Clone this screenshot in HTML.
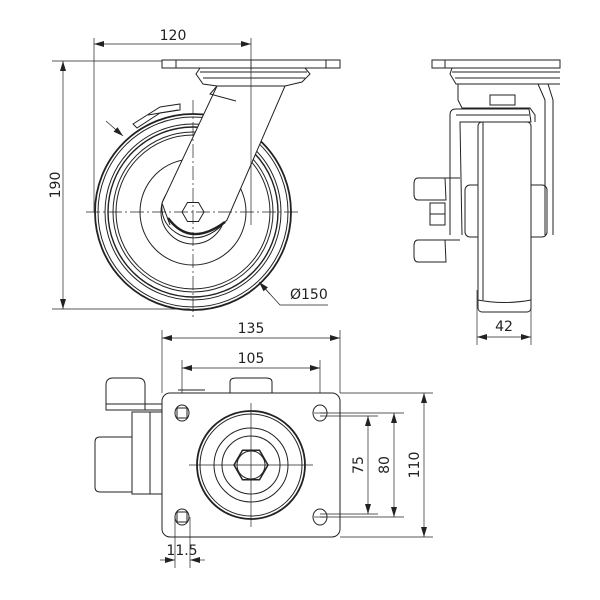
<!DOCTYPE html>
<html><head><meta charset="utf-8"><style>
html,body{margin:0;padding:0;background:#fff;}
svg{display:block;}
text{font-family:"DejaVu Sans","Liberation Sans",sans-serif;font-size:14px;fill:#222;}
</style></head><body>
<svg width="600" height="600" viewBox="0 0 600 600" xmlns="http://www.w3.org/2000/svg">
<defs>
<marker id="a" viewBox="0 0 10 6" refX="10" refY="3" markerWidth="10" markerHeight="6" orient="auto-start-reverse" markerUnits="userSpaceOnUse"><path d="M0,0 L10,3 L0,6 z" fill="#222"/></marker>
</defs>
<g fill="none" stroke="#222" stroke-width="1">
<!-- FRONT VIEW -->
<line x1="94" y1="38" x2="94" y2="212" stroke-width="0.7"/>
<line x1="251" y1="38" x2="251" y2="70" stroke-width="0.7"/>
<line x1="94" y1="44" x2="251" y2="44" marker-start="url(#a)" marker-end="url(#a)" stroke-width="0.7"/>
<line x1="52" y1="61" x2="162" y2="61" stroke-width="0.7"/>
<line x1="52" y1="309" x2="190" y2="309" stroke-width="0.7"/>
<line x1="63" y1="61" x2="63" y2="309" marker-start="url(#a)" marker-end="url(#a)" stroke-width="0.7"/>
<rect x="162" y="60" width="178" height="8"/>
<line x1="176" y1="60" x2="176" y2="68"/><line x1="326" y1="60" x2="326" y2="68"/>
<path d="M200,68 L196,74 L203,84 L217,86 L285,86 L302,82 L310,74 L305,68"/>
<line x1="200" y1="72" x2="307" y2="72"/><line x1="203" y1="78" x2="305" y2="78"/>
<circle cx="193" cy="212" r="98" stroke-width="1.8"/>
<circle cx="193" cy="212" r="95"/>
<circle cx="193" cy="212" r="88"/>
<circle cx="193" cy="212" r="85" stroke-width="1.4"/>
<circle cx="193" cy="212" r="80"/>
<circle cx="193" cy="212" r="77"/>
<circle cx="193" cy="212" r="53"/>
<circle cx="193" cy="212" r="32"/>
<path d="M133,124 L160,107 L180,104 L180,110 L160,113 L137,128 Z" fill="#fff"/>
<line x1="148" y1="115" x2="178" y2="110"/>
<line x1="106" y1="121" x2="123" y2="136" stroke-width="0.7" marker-end="url(#a)"/>
<path d="M217,86 L285,86 L227,220 Q205,245 180,235 Q160,225 162,203 Z" fill="#fff"/>
<path d="M217,86 L210,94 L236,101" />
<line x1="162" y1="203" x2="170" y2="225"/>
<path d="M168,218 Q190,248 225,222" stroke-width="2.4"/>
<polygon points="182,212 187.5,202.5 198.5,202.5 204,212 198.5,221.5 187.5,221.5" fill="#fff"/>
<line x1="193" y1="100" x2="193" y2="318" stroke-dasharray="14,3,2,3" stroke-width="0.7"/>
<line x1="86" y1="212" x2="298" y2="212" stroke-dasharray="14,3,2,3" stroke-width="0.7"/>
<line x1="251" y1="60" x2="251" y2="225" stroke-width="0.7"/>
<polyline points="260,283 280,305 328,305" stroke-width="0.7"/>
<line x1="270" y1="294" x2="259" y2="282" stroke-width="0.7" marker-end="url(#a)"/>

<!-- SIDE VIEW -->
<rect x="432" y="60" width="128" height="8"/>
<line x1="445" y1="60" x2="445" y2="68"/>
<path d="M452,68 L450,74 L456,84 L560,84"/>
<line x1="452" y1="72" x2="560" y2="72"/><line x1="455" y1="78" x2="560" y2="78"/>
<path d="M458,84 L458,100 L462,108 L530,108 L535,115 L535,122"/>
<path d="M538,84 L545,100 L545,235"/>
<path d="M548,84 L553,100 L553,235"/>
<rect x="490" y="95" width="25" height="10"/>
<path d="M450,235 L450,115 Q450,109 456,109 L529,109 L531,122 L460,122 L462,235"/>
<line x1="456" y1="115" x2="529" y2="115"/>
<rect x="465" y="185" width="82" height="52" rx="5"/>
<rect x="478" y="122" width="53" height="190" rx="4" fill="#fff"/>
<line x1="483" y1="122" x2="483" y2="300"/>
<path d="M478,300 Q504,305 531,300"/>
<path d="M418,178 L445,178 L446,200 L418,200 Q414,200 414,194 L414,184 Q414,178 418,178 Z" fill="#fff"/>
<path d="M418,240 L445,240 L446,262 L418,262 Q414,262 414,256 L414,246 Q414,240 418,240 Z" fill="#fff"/>
<rect x="430" y="203" width="15" height="22"/>
<line x1="430" y1="214" x2="445" y2="214"/>
<line x1="445" y1="178" x2="460" y2="178"/><line x1="445" y1="240" x2="460" y2="240"/>
<line x1="477" y1="290" x2="477" y2="345" stroke-width="0.7"/>
<line x1="531" y1="290" x2="531" y2="345" stroke-width="0.7"/>
<line x1="477" y1="337" x2="531" y2="337" marker-start="url(#a)" marker-end="url(#a)" stroke-width="0.7"/>

<!-- BOTTOM VIEW -->
<line x1="162" y1="330" x2="162" y2="393" stroke-width="0.7"/>
<line x1="340" y1="330" x2="340" y2="393" stroke-width="0.7"/>
<line x1="162" y1="338" x2="340" y2="338" marker-start="url(#a)" marker-end="url(#a)" stroke-width="0.7"/>
<line x1="182" y1="360" x2="182" y2="413" stroke-width="0.7"/>
<line x1="320" y1="360" x2="320" y2="413" stroke-width="0.7"/>
<line x1="182" y1="368" x2="320" y2="368" marker-start="url(#a)" marker-end="url(#a)" stroke-width="0.7"/>
<path d="M106,410 L106,385 Q106,378 113,378 L138,378 Q145,378 145,385 L145,410 Z"/>
<line x1="106" y1="404" x2="162" y2="404"/><line x1="106" y1="410" x2="162" y2="410"/>
<rect x="132" y="412" width="30" height="82"/>
<line x1="150" y1="412" x2="150" y2="494"/>
<path d="M132,437 L100,437 Q95,437 95,442 L95,487 Q95,492 100,492 L132,492"/>
<path d="M230,393 L230,382 Q230,378 236,378 L266,378 Q272,378 272,382 L272,393"/>
<line x1="178" y1="390" x2="205" y2="390"/>
<rect x="162" y="393" width="178" height="144" rx="8" fill="#fff"/>
<ellipse cx="182" cy="413" rx="7" ry="8"/><ellipse cx="320" cy="413" rx="7" ry="8"/>
<ellipse cx="182" cy="517" rx="7" ry="8"/><ellipse cx="320" cy="517" rx="7" ry="8"/>
<rect x="177" y="408" width="10" height="10"/><rect x="177" y="512" width="10" height="10"/>
<circle cx="251" cy="465" r="54" stroke-width="1.8"/>
<circle cx="251" cy="465" r="51"/>
<circle cx="251" cy="465" r="37"/>
<circle cx="251" cy="465" r="29"/>
<polygon points="268,465 259.5,479.7 242.5,479.7 234,465 242.5,450.3 259.5,450.3" stroke-width="1.5"/>
<circle cx="251" cy="465" r="14"/>
<line x1="251" y1="403" x2="251" y2="527" stroke-width="0.7"/>
<line x1="189" y1="465" x2="313" y2="465" stroke-width="0.7"/>
<line x1="314" y1="413" x2="326" y2="413" stroke-width="0.7"/>
<line x1="314" y1="517" x2="326" y2="517" stroke-width="0.7"/>
<line x1="320" y1="416" x2="378" y2="416" stroke-width="0.7"/>
<line x1="320" y1="514" x2="378" y2="514" stroke-width="0.7"/>
<line x1="368" y1="416" x2="368" y2="514" marker-start="url(#a)" marker-end="url(#a)" stroke-width="0.7"/>
<line x1="320" y1="413" x2="404" y2="413" stroke-width="0.7"/>
<line x1="320" y1="517" x2="404" y2="517" stroke-width="0.7"/>
<line x1="394" y1="413" x2="394" y2="517" marker-start="url(#a)" marker-end="url(#a)" stroke-width="0.7"/>
<line x1="340" y1="393" x2="433" y2="393" stroke-width="0.7"/>
<line x1="340" y1="537" x2="433" y2="537" stroke-width="0.7"/>
<line x1="424" y1="393" x2="424" y2="537" marker-start="url(#a)" marker-end="url(#a)" stroke-width="0.7"/>
<line x1="175" y1="517" x2="175" y2="568" stroke-width="0.7"/>
<line x1="190" y1="517" x2="190" y2="568" stroke-width="0.7"/>
<line x1="160" y1="560" x2="175" y2="560" marker-end="url(#a)" stroke-width="0.7"/>
<line x1="205" y1="560" x2="190" y2="560" marker-end="url(#a)" stroke-width="0.7"/>
</g>
<text x="173" y="40" text-anchor="middle">120</text>
<text x="0" y="0" text-anchor="middle" transform="translate(60,185) rotate(-90)">190</text>
<text x="290" y="299">Ø150</text>
<text x="504" y="331" text-anchor="middle">42</text>
<text x="251" y="333" text-anchor="middle">135</text>
<text x="251" y="363" text-anchor="middle">105</text>
<text x="0" y="0" text-anchor="middle" transform="translate(363,465) rotate(-90)">75</text>
<text x="0" y="0" text-anchor="middle" transform="translate(389,465) rotate(-90)">80</text>
<text x="0" y="0" text-anchor="middle" transform="translate(419,465) rotate(-90)">110</text>
<text x="182" y="555" text-anchor="middle">11.5</text>
</svg>
</body></html>
